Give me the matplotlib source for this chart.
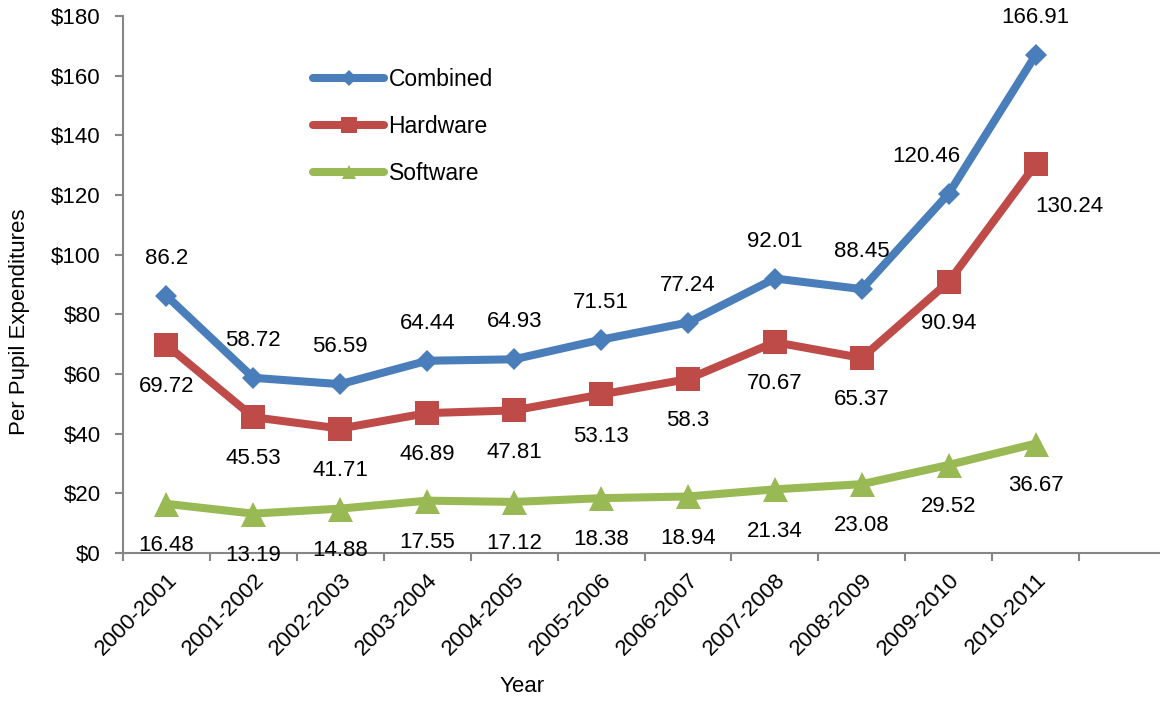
import matplotlib
matplotlib.use("Agg")
import matplotlib.pyplot as plt
from matplotlib.lines import Line2D

# ---------------------------------------------------------------------------
years = ["2000-2001", "2001-2002", "2002-2003", "2003-2004", "2004-2005",
         "2005-2006", "2006-2007", "2007-2008", "2008-2009", "2009-2010",
         "2010-2011"]
combined = [86.2, 58.72, 56.59, 64.44, 64.93, 71.51, 77.24, 92.01, 88.45,
            120.46, 166.91]
hardware = [69.72, 45.53, 41.71, 46.89, 47.81, 53.13, 58.3, 70.67, 65.37,
            90.94, 130.24]
software = [16.48, 13.19, 14.88, 17.55, 17.12, 18.38, 18.94, 21.34, 23.08,
            29.52, 36.67]
y_ticks = [0, 20, 40, 60, 80, 100, 120, 140, 160, 180]

BLUE, RED, GREEN = "#4A7EBB", "#BE4B48", "#98B954"
AXIS_GREY = "#868686"
FS = 16

plt.rcParams["font.family"] = ["Liberation Sans", "DejaVu Sans"]

W, H = 1160, 701
fig = plt.figure(figsize=(W / 100, H / 100), dpi=100, facecolor="white")
# plot area in pixels: left 123, top 16, bottom 553, right runs past the edge
ax = fig.add_axes([123 / W, 1 - 553 / H, 1043 / W, 537 / H])

x = list(range(len(years)))
series = [
    ("Combined", combined, BLUE, "D", 11.7),
    ("Hardware", hardware, RED, "s", 17),
    ("Software", software, GREEN, "^", 18),
]
for name, vals, col, mk, ms in series:
    ax.plot(x, vals, color=col, lw=5.8, marker=mk, ms=ms,
            markeredgewidth=0, solid_capstyle="round", zorder=3)

# data labels: combined above, the others below (a couple nudged sideways)
label_dy = {"Combined": 27, "Hardware": -30, "Software": -30}
nudge_x = {("Combined", 9): -16, ("Hardware", 10): 24}
for name, vals, col, mk, ms in series:
    for i, v in enumerate(vals):
        ax.annotate(f"{v:g}", (i, v), xytext=(nudge_x.get((name, i), 0), label_dy[name]),
                    textcoords="offset points", ha="center", va="center",
                    fontsize=FS, color="black", zorder=4)

ax.set_xlim(-0.5, len(years) + 0.5)
ax.set_ylim(0, 180)
ax.set_yticks(y_ticks)
ax.set_yticklabels([f"${t}" for t in y_ticks])

# category labels at centres, tick marks on the boundaries
ax.set_xticks(x)
ax.set_xticklabels(years, rotation=45, ha="right", va="top",
                   rotation_mode="anchor")
ax.set_xticks([i - 0.5 for i in range(len(years) + 2)], minor=True)
ax.tick_params(axis="x", which="major", length=0, pad=12, labelsize=FS)
ax.tick_params(axis="x", which="minor", length=6, width=1.5, color=AXIS_GREY)
ax.tick_params(axis="y", length=6, width=1.5, color=AXIS_GREY, pad=10,
               labelsize=FS)

for side in ["top", "right"]:
    ax.spines[side].set_visible(False)
for side in ["left", "bottom"]:
    ax.spines[side].set_color(AXIS_GREY)
    ax.spines[side].set_linewidth(1.5)

fig.text(20 / W, 1 - 322 / H, "Per Pupil Expenditures", rotation=90,
         ha="center", va="center", fontsize=FS)
fig.text(522 / W, 1 - 687 / H, "Year", ha="center", va="center", fontsize=FS)

# legend with smaller markers, like the spreadsheet one
handles = [
    Line2D([], [], color=BLUE, lw=5.8, marker="D", ms=8, markeredgewidth=0,
           solid_capstyle="round"),
    Line2D([], [], color=RED, lw=5.8, marker="s", ms=11, markeredgewidth=0,
           solid_capstyle="round"),
    Line2D([], [], color=GREEN, lw=5.8, marker="^", ms=10, markeredgewidth=0,
           solid_capstyle="round"),
]
fig.legend(handles, [s[0] for s in series], loc="upper left",
           bbox_to_anchor=(313 / W, 1 - 68 / H), frameon=False,
           fontsize=FS + 0.5, handlelength=3.1, handletextpad=0.2,
           labelspacing=1.05, borderpad=0, borderaxespad=0)

fig.savefig("out.png", dpi=100, facecolor="white")
